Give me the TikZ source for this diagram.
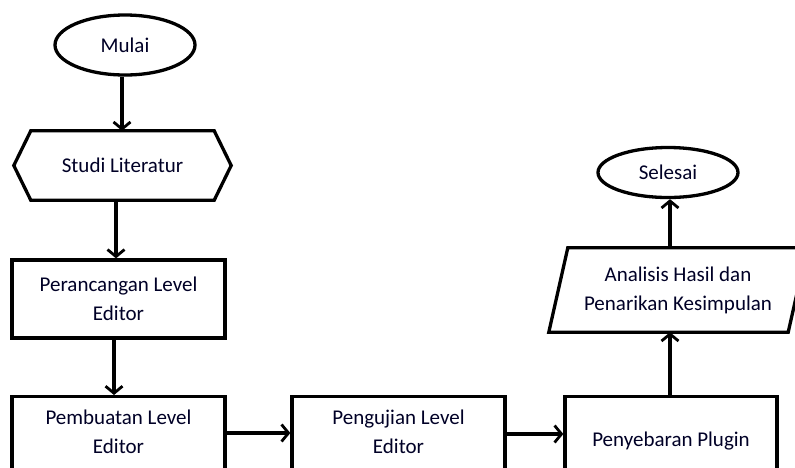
\documentclass[tikz,border=0pt]{standalone}
\usepackage{fontspec}
\setmainfont{Carlito}
\usetikzlibrary{arrows.meta,calc,shapes.geometric}
\begin{document}
\begin{tikzpicture}[x=1pt,y=-1pt,
  every node/.style={font=\fontsize{21}{29}\selectfont, text=black!85!blue},
  line/.style={line width=3.3pt},
  arr/.style={line width=3.3pt, -{Straight Barb[length=7pt,width=17pt,line width=2.8pt]}},
  term/.style={ellipse, draw, line width=3.3pt, inner sep=0pt},
  procbox/.style={rectangle, draw, line width=3.3pt, inner sep=0pt, align=center},
  bare/.style={rectangle, inner sep=0pt, align=center}
]
\useasboundingbox (0,0) rectangle (795,467);
\clip (0,0) rectangle (795,467);
\coordinate (xa) at (122,0);
\coordinate (xb) at (116,0);
\coordinate (xc) at (114,0);
\coordinate (xd) at (670,0);
\coordinate (ya) at (0,433);
\coordinate (yb) at (0,434);
% start
\node[term, minimum width=140, minimum height=60] (mulai) at (125,45) {Mulai};
% hexagon
\node[bare, minimum width=217, minimum height=69] (studi) at (122.5,165.5) {Studi Literatur};
\draw[line, line join=miter] (studi.west) -- ($(studi.north west)+(17,0)$) -- ($(studi.north east)+(-17,0)$) -- (studi.east) -- ($(studi.south east)+(-17,0)$) -- ($(studi.south west)+(17,0)$) -- cycle;
% design box
\node[procbox, minimum width=213, minimum height=78] (peran) at (118.5,299) {Perancangan Level\\Editor};
% bottom row
\node[procbox, minimum width=213, minimum height=90, anchor=north, text depth=20pt] (pemb) at (118.5,395) {Pembuatan Level\\Editor};
\node[procbox, minimum width=213, minimum height=90, anchor=north, text depth=20pt] (peng) at (398.5,395) {Pengujian Level\\Editor};
\node[procbox, minimum width=212, minimum height=90, anchor=north, text depth=4pt] (peny) at (671,395) {Penyebaran Plugin};
% parallelogram
\node[bare, minimum width=239, minimum height=84] (anal) at (678,290) {Analisis Hasil dan\\Penarikan Kesimpulan};
\draw[line, line join=miter] ($(anal.north west)+(9.5,0)$) -- ($(anal.north east)+(9.5,0)$) -- ($(anal.south east)+(-9.5,0)$) -- ($(anal.south west)+(-9.5,0)$) -- cycle;
% end
\node[term, minimum width=140, minimum height=50] (selesai) at (668,172.5) {Selesai};
% connectors
\draw[arr] (mulai.south -| xa) -- (studi.north -| xa);
\draw[arr] (studi.south -| xb) -- (peran.north -| xb);
\draw[arr] (peran.south -| xc) -- (pemb.north -| xc);
\draw[arr] (pemb.east |- ya) -- (peng.west |- ya);
\draw[arr] (peng.east |- yb) -- (peny.west |- yb);
\draw[arr] (peny.north -| xd) -- (anal.south -| xd);
\draw[arr] (anal.north -| xd) -- (selesai.south -| xd);
\end{tikzpicture}
\end{document}
